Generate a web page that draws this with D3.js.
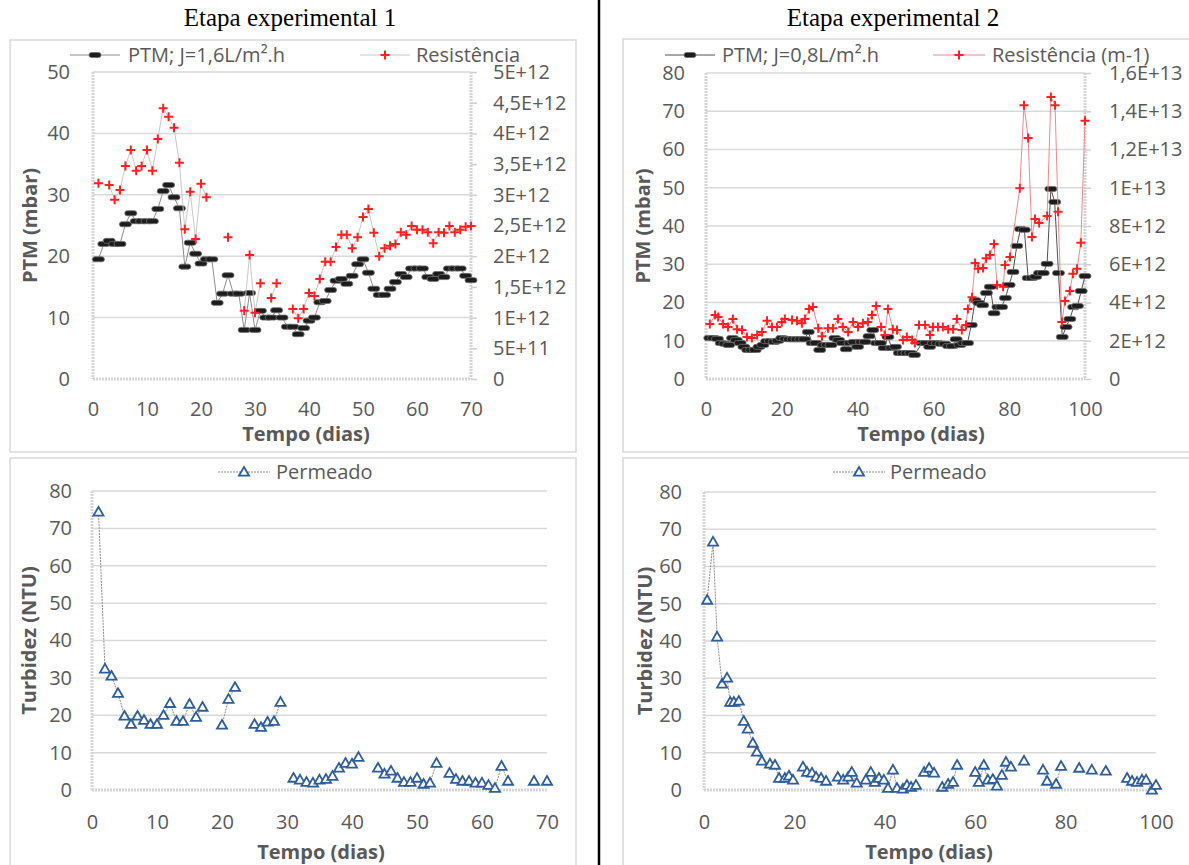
<!DOCTYPE html>
<html>
<head>
<meta charset="utf-8">
<script src="https://cdn.jsdelivr.net/npm/d3@7"></script>
<style>
  body { margin: 0; background: #fff; }
  svg text { font-family: "Open Sans", sans-serif; fill: #595959; }
</style>
</head>
<body>
<svg id="chart" width="1189" height="865"></svg>
<script>
// ---- data: [dia, valor] ----
var ptm1 = [[1,19.5],[2,22],[3,22.5],[4,22],[5,22],[6,25.2],[7,27],[8,25.7],[9,25.7],[10,25.7],[11,25.7],
  [12,27.7],[13,30.6],[14,31.6],[15,29.6],[16,27.8],[17,18.3],[18,22.2],[19,20.4],[20,18.8],[21,19.5],[22,19.5],
  [23,12.4],[24,13.9],[25,16.9],[26,13.9],[27,13.9],[28,8],[29,14],[30,8],[31,11.1],[32,10],[33,10],[34,11.2],
  [35,10],[36,8.5],[37,8.5],[38,7.3],[39,8.3],[40,9.5],[41,10],[42,12.5],[43,12.7],[44,14.5],[45,16],[46,16.3],
  [47,15.5],[48,16.8],[49,18.7],[50,19.5],[51,17.3],[52,14.7],[53,13.7],[54,13.7],[55,14.7],[56,15.8],[57,17.1],
  [58,16.6],[59,18],[60,18],[61,18],[62,16.6],[63,16.3],[64,17.1],[65,16.6],[66,18],[67,18],[68,18],[69,16.8],[70,16.1]];

var res1 = [[1,3.19e12],[3,3.16e12],[4,2.92e12],[5,3.08e12],[6,3.47e12],[7,3.73e12],[8,3.39e12],[9,3.47e12],
  [10,3.73e12],[11,3.39e12],[12,3.91e12],[13,4.41e12],[14,4.27e12],[15,4.09e12],[16,3.52e12],[17,2.44e12],
  [18,3.05e12],[19,2.28e12],[20,3.18e12],[21,2.96e12],[22,null],[25,2.31e12],[26,null],[28,1.11e12],[29,2.02e12],
  [30,1.08e12],[31,1.56e12],[32,null],[33,1.32e12],[34,1.56e12],[35,null],[37,1.14e12],[38,0.99e12],[39,1.14e12],
  [40,1.40e12],[41,1.35e12],[42,1.63e12],[43,1.91e12],[44,1.91e12],[45,2.15e12],[46,2.35e12],[47,2.35e12],
  [48,2.13e12],[49,2.31e12],[50,2.64e12],[51,2.77e12],[52,2.38e12],[53,2.00e12],[54,2.13e12],[55,2.17e12],
  [56,2.20e12],[57,2.39e12],[58,2.35e12],[59,2.49e12],[60,2.43e12],[61,2.43e12],[62,2.39e12],[63,2.21e12],
  [64,2.39e12],[65,2.38e12],[66,2.49e12],[67,2.39e12],[68,2.43e12],[69,2.48e12],[70,2.49e12]];

var ptm2 = [[1,10.7],[2,10.7],[3,10.5],[4,9.4],[5,9.2],[6,8.9],[7,10.7],[8,10.2],[9,9.4],[10,8.4],[11,7.6],
  [12,7.6],[13,7.6],[14,8.4],[15,8.9],[16,9.9],[17,9.9],[18,9.7],[19,10],[20,10.7],[21,10.5],[22,10.4],[23,10.4],
  [24,10.4],[25,10.4],[26,10.4],[27,12.3],[28,9.4],[29,9.4],[30,7.6],[31,8.9],[32,8.9],[33,8.9],[34,10.7],
  [35,10.2],[36,9.4],[37,7.8],[38,9.4],[39,9.7],[40,8.4],[41,9.7],[42,9.7],[43,11.2],[44,12.8],[45,9.4],
  [46,9.4],[47,8.1],[48,11],[49,8.1],[50,8.4],[51,6.8],[52,6.8],[53,6.8],[54,6.8],[55,6.3],[57,9.4],[58,9.4],
  [59,8.4],[60,9.4],[61,9.4],[62,9.2],[63,9.2],[64,8.6],[65,8.6],[66,10.4],[67,8.9],[68,9.4],[69,9.4],[70,14.1],
  [71,20.6],[72,19.9],[73,19.3],[74,22.5],[75,24.1],[76,17.2],[77,18.8],[78,18.8],[79,21.2],[80,24.6],[81,28],
  [82,34.8],[83,39.2],[84,39],[85,26.4],[86,26.4],[87,26.7],[88,27.7],[89,27.7],[90,30.1],[91,49.7],[92,46.3],
  [93,27.7],[94,11],[95,13.6],[96,15.7],[97,18.8],[98,19.1],[99,23],[100,26.9]];

var res2 = [[1,2.88e12],[2.4,3.34e12],[3.2,3.24e12],[4.5,2.88e12],[5.8,2.72e12],[7.1,3.14e12],[8.2,2.6e12],
  [9.5,2.56e12],[10.8,2.2e12],[12.1,2.14e12],[13.5,2.3e12],[14.8,2.46e12],[16.1,3.04e12],[17.4,2.72e12],
  [18.7,2.72e12],[20,2.98e12],[20.8,3.14e12],[22.7,3.08e12],[24,3.04e12],[25.3,2.92e12],[26.1,3.14e12],
  [27.2,3.66e12],[28.2,3.76e12],[29.6,2.66e12],[30.6,2.24e12],[32.2,2.66e12],[33.5,2.66e12],[34.8,3.14e12],
  [36.1,2.72e12],[37.5,2.46e12],[38.8,2.98e12],[40.1,2.72e12],[41.4,2.92e12],[42.7,2.98e12],[43.8,3.34e12],
  [44.9,3.82e12],[46.2,2.72e12],[47.2,2.3e12],[48,3.66e12],[49.3,2.6e12],[50.4,2.56e12],[52,2.04e12],
  [53,2.2e12],[54.4,2.04e12],[55.1,1.88e12],[56.2,2.82e12],[57.8,2.82e12],[59.1,2.3e12],[59.9,2.72e12],
  [61.2,2.72e12],[62.5,2.72e12],[63.9,2.6e12],[65.2,2.6e12],[66.2,3.14e12],[67.5,2.56e12],[68.6,2.82e12],
  [69.1,3.66e12],[70.2,4.28e12],[71,6.06e12],[71.8,5.76e12],[73.1,5.8e12],[73.9,6.32e12],[74.9,6.48e12],
  [76,7.06e12],[76.8,4.92e12],[78.4,4.82e12],[78.9,5.96e12],[80.2,6.38e12],[82.8,9.98e12],[83.9,14.32e12],
  [85,12.6e12],[86,7.42e12],[86.8,8.36e12],[87.9,8.16e12],[90,8.52e12],[91,14.74e12],[92.1,14.32e12],
  [92.9,8.74e12],[93.9,2.98e12],[94.7,4.08e12],[96,4.6e12],[96.8,5.5e12],[97.9,5.76e12],[98.9,7.12e12],[100,13.5e12]];

var turb1 = [[1,74.4],[2,32.4],[3,30.5],[4,25.9],[5,19.8],[6,17.6],[7,19.8],[8,18.7],[9,17.6],[10,17.6],
  [11,20],[12,23.2],[13,18.4],[14,18.4],[15,23],[16,19.5],[17,22.2],[18,null],[20,17.4],[21,24.3],[22,27.5],
  [23,null],[25,17.6],[26,16.8],[27,18.2],[28,18.4],[29,23.5],[30,null],[31,3.2],[32,2.7],[33,2.1],[34,1.9],
  [35,2.7],[36,2.9],[37,3.7],[38,5.9],[39,7.2],[40,7],[41,8.8],[42,null],[44,5.9],[45,4.3],[46,5.1],[47,3.2],
  [48,2.1],[49,2.1],[50,3.2],[51,1.6],[52,1.9],[53,7.2],[54,null],[55,4.5],[56,2.9],[57,2.4],[58,2.4],[59,1.9],
  [60,1.9],[61,1.3],[62,0.5],[63,6.4],[64,2.4],[65,null],[68,2.4],[69,null],[70,2.4]];

var turb2 = [[0.7,51],[2,66.6],[2.9,41.1],[4,28.5],[5.1,30.1],[5.8,23.6],[6.6,23.6],[7.7,23.9],[8.8,18.5],
  [9.7,16.4],[10.8,12.6],[11.7,10.2],[12.8,7.8],[14.6,7],[15.7,6.7],[16.6,3.2],[17.9,3.2],[18.8,3.8],[19.7,2.7],
  [21,null],[21.9,6.2],[22.8,4.8],[23.9,4.6],[24.8,3.5],[25.9,3.2],[27,2.4],[28,null],[29.6,3.5],[30.8,2.7],
  [31.9,3.5],[32.7,4.8],[33.8,1.9],[35,null],[35.8,2.7],[36.9,4.8],[37.8,2.1],[38.7,3.2],[39.8,2.7],[40.7,0.5],
  [41.8,5.4],[42.7,0.5],[44,0.3],[44.9,1.3],[45.8,0.8],[46.9,1.3],[48,null],[48.7,4.8],[49.8,5.9],[50.9,4.6],
  [52,null],[52.7,0.8],[54,1.6],[55.1,2.1],[56,6.7],[58,null],[60,4.8],[60.8,2.1],[61.9,6.7],[62.8,2.7],
  [63.9,2.9],[64.8,1.1],[65.9,4],[66.8,7.5],[67.9,6.2],[69,null],[70.8,7.8],[72,null],[75,5.4],[75.9,2.4],
  [77,null],[77.9,1.6],[79,6.4],[81,null],[83,5.9],[84,null],[85.8,5.4],[87,null],[88.9,5.1],[90,null],
  [93.6,3.2],[94.7,2.4],[95.8,2.1],[96.9,2.7],[97.8,2.7],[99.1,0],[100,1.3]];

var titles = ["Etapa experimental 1", "Etapa experimental 2"];
var xTitle = "Tempo (dias)";
// ---------------------------------------------

var svg = d3.select("#chart");

// Excel "General" style for the secondary axis: 1,5E+12
function sci(v) {
  if (v === 0) return "0";
  var e = Math.floor(Math.log10(v) + 1e-9);
  var m = +(v / Math.pow(10, e)).toFixed(2);
  return String(m).replace(".", ",") + "E+" + e;
}

function dash(sel) {
  sel.append("rect").attr("x", -6).attr("y", -2.5).attr("width", 12).attr("height", 5).attr("rx", 2.5)
    .attr("fill", "#1c1c1c").attr("stroke", "#707070").attr("stroke-width", 0.8);
}
function plus(sel) {
  sel.append("path").attr("d", "M-4.5,0H4.5M0,-4.5V4.5")
    .attr("stroke", "#ff2121").attr("stroke-width", 2).attr("fill", "none");
}
function tri(sel) {
  sel.append("path").attr("d", d3.symbol(d3.symbolTriangle, 44)())
    .attr("transform", "translate(0,0.8)")
    .attr("fill", "#fff").attr("stroke", "#2e5d9b").attr("stroke-width", 1.8);
}

function drawSeries(g, data, x, y, s) {
  var line = d3.line().defined(function(d) { return d[1] != null; })
    .x(function(d) { return x(d[0]); }).y(function(d) { return y(d[1]); });
  g.append("path").datum(data).attr("d", line).attr("fill", "none")
    .attr("stroke", s.line).attr("stroke-width", s.width || 1)
    .attr("stroke-dasharray", s.dashArr || null);
  g.append("g").selectAll("g").data(data.filter(function(d) { return d[1] != null; }))
    .enter().append("g")
    .attr("transform", function(d) { return "translate(" + x(d[0]) + "," + y(d[1]) + ")"; })
    .each(function() { s.marker(d3.select(this)); });
}

function styleAxis(ax, size) {
  ax.select(".domain").remove();
  ax.attr("font-family", null).attr("font-size", null);
  ax.selectAll("text").style("font-size", size + "px").attr("fill", null);
}

function panel(p) {
  var g = svg.append("g");
  g.append("rect").attr("x", p.frame[0]).attr("y", p.frame[1]).attr("width", p.frame[2]).attr("height", p.frame[3])
    .attr("fill", "none").attr("stroke", "#d9d9d9").attr("stroke-width", 1.5);

  var x = d3.scaleLinear().domain([0, p.xMax]).range([p.left, p.right]);
  var y = d3.scaleLinear().domain([0, p.yMax]).range([p.bottom, p.top]);
  var yTicks = d3.range(0, p.yMax + p.yStep / 2, p.yStep);
  var xTicks = d3.range(0, p.xMax + p.xStep / 2, p.xStep);

  // gridlines
  g.append("g").selectAll("line").data(yTicks.slice(1)).enter().append("line")
    .attr("x1", p.left).attr("x2", p.right)
    .attr("y1", function(d) { return y(d); }).attr("y2", function(d) { return y(d); })
    .attr("stroke", "#d9d9d9").attr("stroke-width", 1.5);

  // dotted axis lines
  var axLine = function(x1, y1, x2, y2) {
    g.append("line").attr("x1", x1).attr("y1", y1).attr("x2", x2).attr("y2", y2)
      .attr("stroke", "#d4d4d4").attr("stroke-width", 3).attr("stroke-dasharray", "2,1");
  };
  axLine(p.left, p.top, p.left, p.bottom);
  axLine(p.left, p.bottom, p.right, p.bottom);

  var axL = g.append("g").attr("transform", "translate(" + p.left + ",0)")
    .call(d3.axisLeft(y).tickValues(yTicks).tickSize(0).tickPadding(p.left - p.labelEnd));
  styleAxis(axL, 20);

  var axB = g.append("g").attr("transform", "translate(0," + p.bottom + ")")
    .call(d3.axisBottom(x).tickValues(xTicks).tickSize(0).tickPadding(p.tickPad));
  styleAxis(axB, 20);

  var y2 = null;
  if (p.rMax) {
    y2 = d3.scaleLinear().domain([0, p.rMax]).range([p.bottom, p.top]);
    axLine(p.right, p.top, p.right, p.bottom);
    var axR = g.append("g").attr("transform", "translate(" + p.right + ",0)")
      .call(d3.axisRight(y2).tickValues(d3.range(0, p.rMax + p.rStep / 2, p.rStep))
        .tickSize(6).tickPadding(p.rLabelX - p.right - 6).tickFormat(sci));
    styleAxis(axR, 20);
    axR.selectAll("line").attr("stroke", "#d0d0d0").attr("stroke-width", 1.5);
  }

  // titles
  g.append("text").attr("x", p.titleX).attr("y", p.bottom + p.titleDy)
    .attr("text-anchor", "middle").style("font-size", "20px").style("font-weight", "bold").text(xTitle);
  g.append("text").attr("transform", "translate(" + p.yTitleX + "," + ((p.top + p.bottom) / 2) + ") rotate(-90)")
    .attr("text-anchor", "middle").attr("dy", "0.35em")
    .style("font-size", "20px").style("font-weight", "bold").text(p.yTitle);

  // series
  p.series.forEach(function(s) {
    drawSeries(g, s.data, x, s.right ? y2 : y, s);
  });

  // legend
  p.series.forEach(function(s, i) {
    var l = p.legend[i];
    g.append("line").attr("x1", l[0]).attr("x2", l[1]).attr("y1", p.legendY).attr("y2", p.legendY)
      .attr("stroke", s.line).attr("stroke-width", 1).attr("stroke-dasharray", s.dashArr || null);
    var m = g.append("g").attr("transform", "translate(" + ((l[0] + l[1]) / 2) + "," + p.legendY + ")");
    s.marker(m);
    g.append("text").attr("x", l[2]).attr("y", p.legendY).attr("dy", "0.35em")
      .style("font-size", "20px").text(s.name);
  });
}

panel({
  frame: [10, 40, 566, 412], left: 93, right: 471, top: 72, bottom: 379, labelEnd: 70, tickPad: 23,
  xMax: 70, xStep: 10, yMax: 50, yStep: 10, rMax: 5e12, rStep: 5e11, rLabelX: 493,
  titleX: 306, titleDy: 62, yTitleX: 30, yTitle: "PTM (mbar)", legendY: 55,
  legend: [[70, 120, 128], [360, 410, 416]],
  series: [
    { name: "PTM; J=1,6L/m².h", data: ptm1, line: "#8c8c8c", marker: dash },
    { name: "Resistência", data: res1, line: "#c8c8c8", marker: plus, right: true }
  ]
});

panel({
  frame: [623, 39, 570, 413], left: 706, right: 1085, top: 73, bottom: 379, labelEnd: 685, tickPad: 23,
  xMax: 100, xStep: 20, yMax: 80, yStep: 10, rMax: 1.6e13, rStep: 2e12, rLabelX: 1109,
  titleX: 921, titleDy: 62, yTitleX: 643, yTitle: "PTM (mbar)", legendY: 55,
  legend: [[665, 715, 722], [933, 985, 992]],
  series: [
    { name: "PTM; J=0,8L/m².h", data: ptm2, line: "#505050", marker: dash },
    { name: "Resistência (m-1)", data: res2, line: "#f08a8a", marker: plus, right: true }
  ]
});

panel({
  frame: [10, 458, 566, 420], left: 92, right: 547, top: 491, bottom: 790, labelEnd: 72, tickPad: 25,
  xMax: 70, xStep: 10, yMax: 80, yStep: 10,
  titleX: 321, titleDy: 69, yTitleX: 29, yTitle: "Turbidez (NTU)", legendY: 472,
  legend: [[218, 270, 276]],
  series: [
    { name: "Permeado", data: turb1, line: "#8c8c8c", dashArr: "2,1", marker: tri }
  ]
});

panel({
  frame: [623, 458, 570, 420], left: 704, right: 1156, top: 492, bottom: 790, labelEnd: 682, tickPad: 25,
  xMax: 100, xStep: 20, yMax: 80, yStep: 10,
  titleX: 929, titleDy: 69, yTitleX: 645, yTitle: "Turbidez (NTU)", legendY: 472,
  legend: [[833, 885, 890]],
  series: [
    { name: "Permeado", data: turb2, line: "#8c8c8c", dashArr: "2,1", marker: tri }
  ]
});

// headings and divider
svg.selectAll(".head").data(titles).enter().append("text")
  .attr("x", function(d, i) { return i ? 893 : 290; }).attr("y", 26)
  .attr("text-anchor", "middle")
  .style("font-family", "'Liberation Serif', 'Times New Roman', serif")
  .style("font-size", "25px").style("fill", "#000")
  .text(function(d) { return d; });

svg.append("line").attr("x1", 599).attr("x2", 599).attr("y1", 0).attr("y2", 865)
  .attr("stroke", "#000").attr("stroke-width", 2.5);
</script>
</body>
</html>
